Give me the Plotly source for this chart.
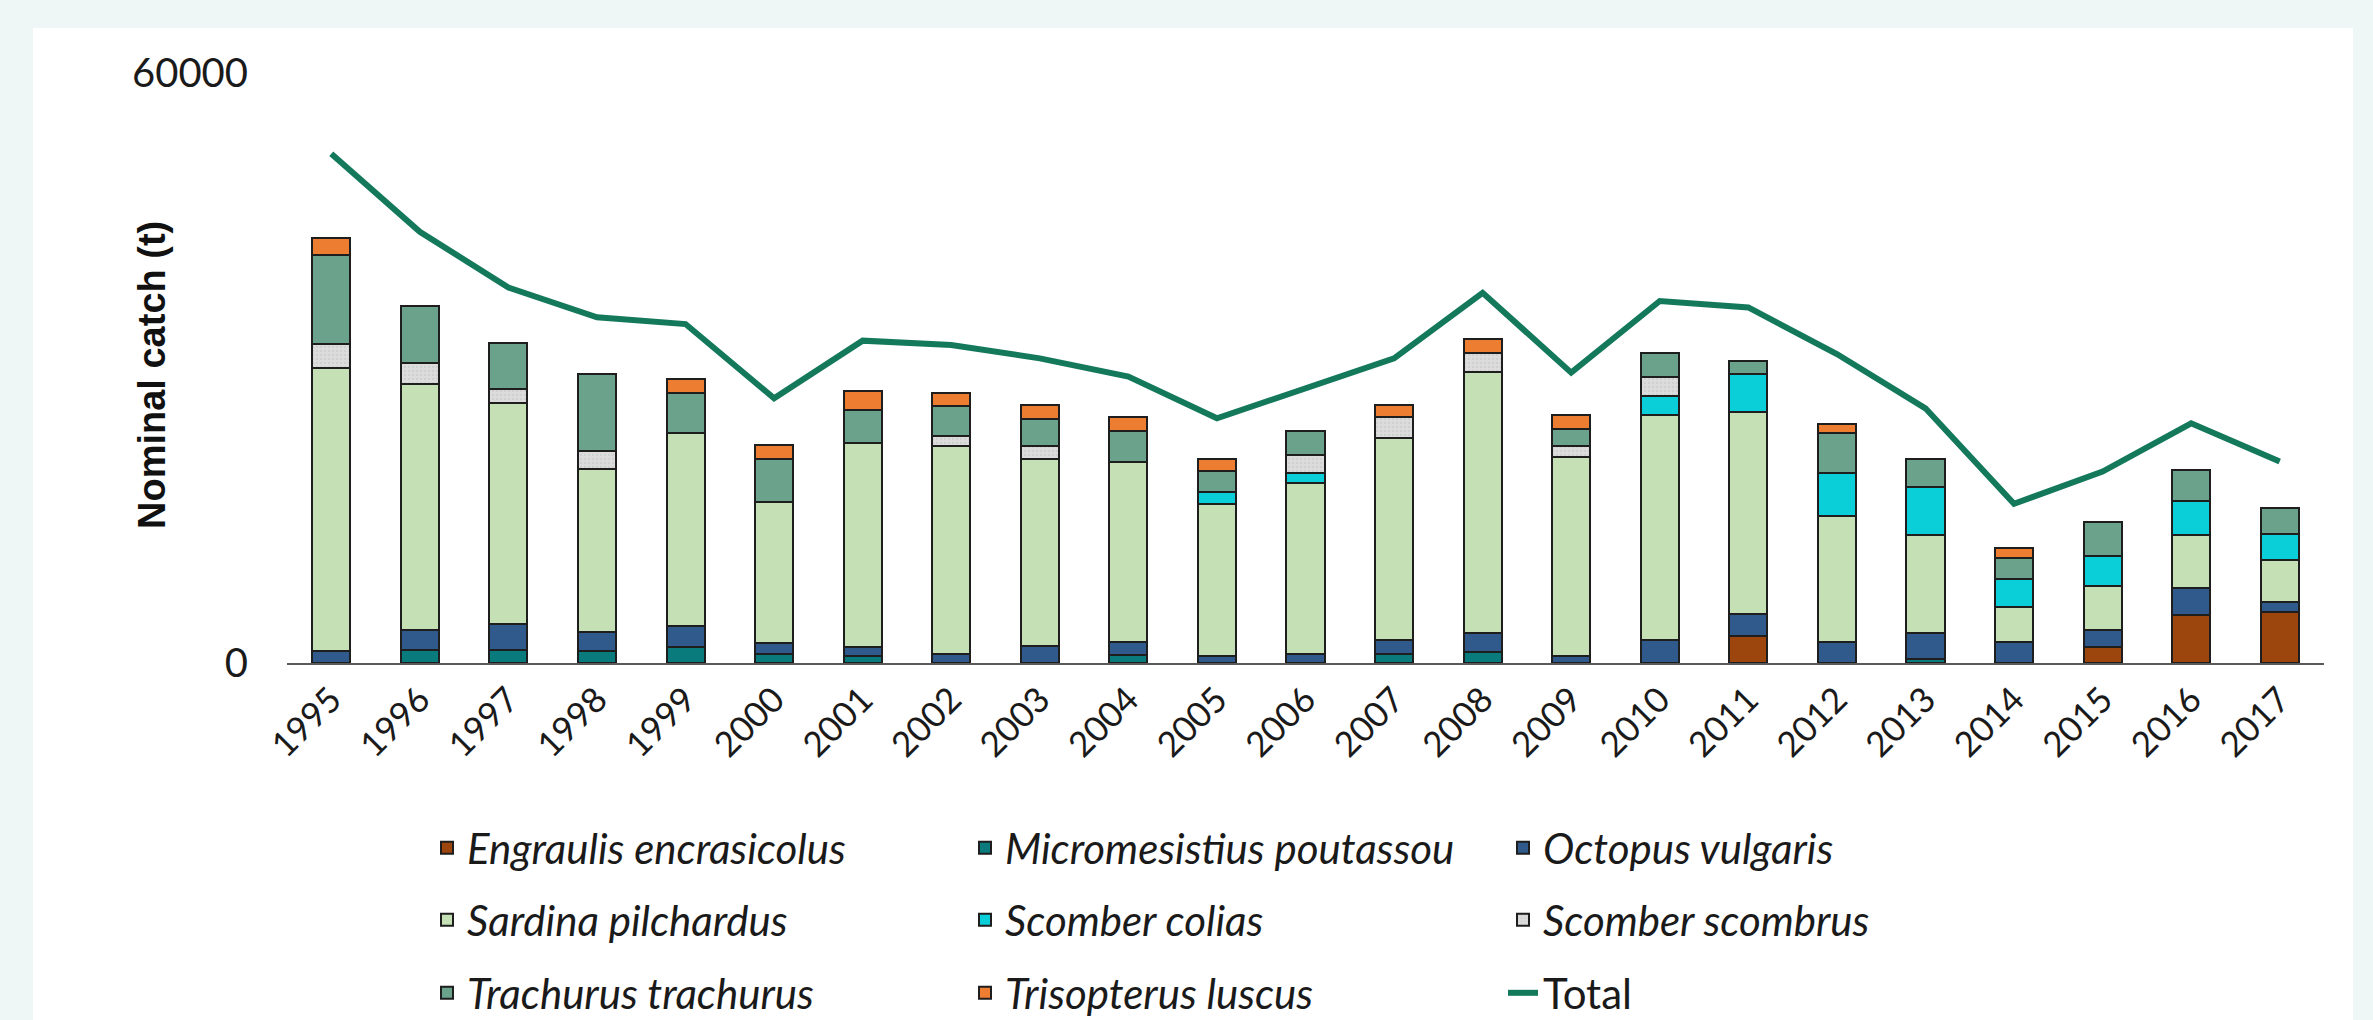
import plotly.graph_objects as go

years = [str(y) for y in range(1995, 2018)]

engraulis = [0, 0, 0, 0, 0, 0, 0, 0, 0, 0, 0, 0, 0, 0, 0, 0, 2780, 0, 0, 0, 1590, 4910, 5150]
micromesistius = [0, 1350, 1350, 1190, 1590, 880, 680, 0, 0, 850, 0, 0, 950, 1080, 0, 0, 0, 0, 410, 0, 0, 0, 0]
octopus = [1190, 1960, 2640, 1930, 2200, 1150, 950, 950, 1690, 1250, 750, 950, 1420, 1960, 750, 2300, 2200, 2100, 2640, 2100, 1730, 2710, 1020]
sardina = [28780, 25020, 22480, 16660, 19570, 14390, 20790, 21160, 19030, 18390, 15440, 17340, 20490, 26510, 20180, 22920, 20520, 12870, 9990, 3590, 4470, 5420, 4270]
colias = [0, 0, 0, 0, 0, 0, 0, 0, 0, 0, 1150, 1020, 0, 0, 0, 1930, 3860, 4330, 4840, 2840, 3120, 3390, 2710]
scombrus = [2470, 2200, 1390, 1730, 0, 0, 0, 980, 1390, 0, 0, 1860, 2130, 1930, 1150, 1960, 0, 0, 0, 0, 0, 0, 0]
trachurus = [9040, 5760, 4640, 7890, 4060, 4300, 3320, 3050, 2710, 3120, 2200, 2470, 0, 0, 1690, 2370, 1390, 4060, 2840, 2130, 3390, 3150, 2610]
trisopterus = [1760, 0, 0, 0, 1460, 1460, 1960, 1290, 1420, 1390, 1220, 0, 1250, 1420, 1460, 0, 0, 950, 0, 1020, 0, 0, 0]
total = [51800, 43850, 38190, 35150, 34470, 26920, 32780, 32340, 30980, 29120, 24890, 27940, 30980, 37650, 29530, 36810, 36160, 31420, 25900, 16190, 19470, 24380, 20490]

ytick_vals = [0, 60000]
ytick_text = ["0", "60000"]

series = [
    ("Engraulis encrasicolus", engraulis, "#9C460D", "legend"),
    ("Micromesistius poutassou", micromesistius, "#0A7B7D", "legend"),
    ("Octopus vulgaris", octopus, "#305A8C", "legend"),
    ("Sardina pilchardus", sardina, "#C5E0B4", "legend2"),
    ("Scomber colias", colias, "#0ACFD8", "legend2"),
    ("Scomber scombrus", scombrus, "#DCDCDC", "legend2"),
    ("Trachurus trachurus", trachurus, "#6BA28C", "legend3"),
    ("Trisopterus luscus", trisopterus, "#ED7D31", "legend3"),
]

fig = go.Figure()
for name, vals, color, lg in series:
    marker = dict(color=color, line=dict(color="#1E1E1E", width=2))
    if name == "Scomber scombrus":
        marker["pattern"] = dict(shape=".", fgcolor="#C2C2C2", bgcolor="#DCDCDC", size=4, solidity=0.25)
    fig.add_trace(go.Bar(
        x=years, y=[v if v else None for v in vals],
        name=f"<i>{name}</i>", marker=marker, legend=lg,
    ))

fig.add_trace(go.Scatter(
    x=years, y=total, mode="lines", name="Total",
    line=dict(color="#14795B", width=6), legend="legend3",
))

W, H = 2373, 1020
L, R, T, B = 287, 49, 73, 357
pw = W - L - R
ph = H - T - B

def px_x(p):
    return (p - L) / pw

def px_y(p):
    return (H - B - p) / ph

leg_common = dict(
    orientation="h", xref="container", yref="container",
    xanchor="left", yanchor="middle", entrywidth=493,
    font=dict(family="Lato", size=42, color="#1A1A1A"),
    bgcolor="rgba(0,0,0,0)", traceorder="normal",
)

fig.update_layout(
    width=W, height=H,
    margin=dict(l=L, r=R, t=T, b=B),
    paper_bgcolor="#EEF7F5", plot_bgcolor="white",
    barmode="stack", bargap=0.57,
    font=dict(family="Lato", color="#1A1A1A"),
    xaxis=dict(
        type="category", showline=True, linecolor="#5A5A5A", linewidth=2,
        ticks="", tickangle=-45, tickfont=dict(size=35, color="#1A1A1A"),
        showgrid=False, zeroline=False,
    ),
    yaxis=dict(
        range=[0, 60000], tickvals=ytick_vals, ticktext=ytick_text,
        showgrid=False, zeroline=False, showline=False, ticks="",
        tickfont=dict(size=40, color="#1A1A1A"), ticklabelstandoff=38,
    ),
    legend=dict(leg_common, x=427 / W, y=1 - 848 / H),
    legend2=dict(leg_common, x=427 / W, y=1 - 920 / H),
    legend3=dict(leg_common, x=427 / W, y=1 - 993 / H),
    shapes=[dict(
        type="rect", xref="paper", yref="paper", layer="below",
        x0=px_x(33), x1=px_x(2353), y0=px_y(1020), y1=px_y(28),
        fillcolor="white", line=dict(width=0),
    )],
    annotations=[dict(
        text="<b>Nominal catch (t)</b>", textangle=-90,
        xref="paper", yref="paper", x=px_x(152), y=px_y(375),
        xanchor="center", yanchor="middle", showarrow=False,
        font=dict(family="Liberation Sans", size=38, color="#111111"),
    )],
)

fig.write_html("out.html", config={"displayModeBar": False},
               post_script="document.body.style.margin='0';")
